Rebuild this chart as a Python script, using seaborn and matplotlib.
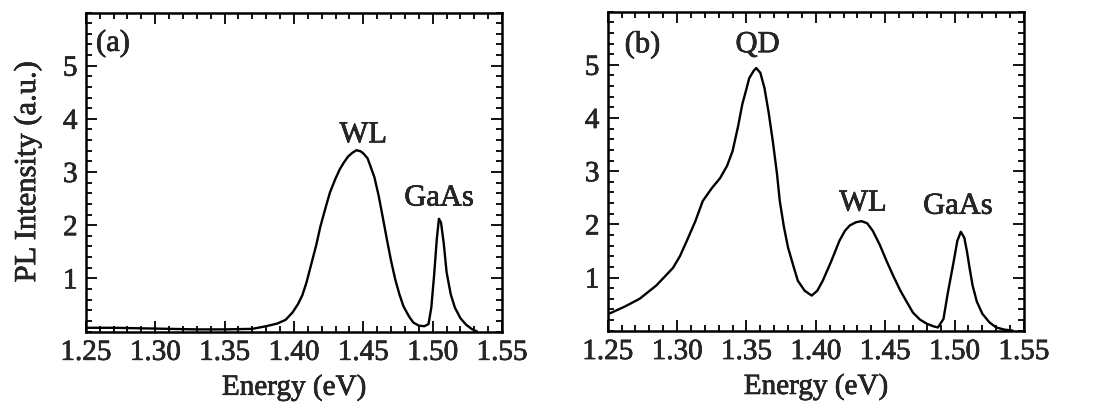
import matplotlib
matplotlib.use("Agg")
import matplotlib.pyplot as plt
import matplotlib.patheffects as pe
import seaborn as sns
import pandas as pd
from matplotlib.ticker import MultipleLocator, FormatStrFormatter

# Panel (a): PL spectrum, WL + GaAs only
energy_a = [1.250, 1.270, 1.290, 1.310, 1.330, 1.350, 1.370, 1.380, 1.388, 1.394,
            1.399, 1.403, 1.406, 1.409, 1.412, 1.416, 1.419, 1.423, 1.426, 1.430,
            1.433, 1.436, 1.439, 1.442, 1.445, 1.448, 1.450, 1.453, 1.455, 1.458,
            1.461, 1.464, 1.467, 1.470, 1.473, 1.476, 1.479, 1.483, 1.486, 1.490,
            1.494, 1.497, 1.499, 1.501, 1.503, 1.5045, 1.506, 1.508, 1.510, 1.513,
            1.516, 1.520, 1.524, 1.528, 1.532]
intensity_a = [0.07, 0.07, 0.06, 0.05, 0.04, 0.04, 0.05, 0.10, 0.15, 0.22,
               0.36, 0.52, 0.68, 0.92, 1.22, 1.62, 1.97, 2.35, 2.62, 2.88,
               3.05, 3.18, 3.29, 3.36, 3.41, 3.39, 3.35, 3.26, 3.12, 2.90,
               2.56, 2.15, 1.73, 1.33, 0.98, 0.70, 0.47, 0.28, 0.17, 0.11,
               0.10, 0.14, 0.45, 1.05, 1.75, 2.12, 2.05, 1.65, 1.12, 0.70,
               0.45, 0.25, 0.13, 0.05, 0.00]

# Panel (b): PL spectrum with QD peak
energy_b = [1.251, 1.262, 1.273, 1.285, 1.297, 1.302, 1.307, 1.313, 1.3185, 1.325,
            1.331, 1.336, 1.340, 1.344, 1.347, 1.350, 1.352, 1.355, 1.357, 1.360,
            1.363, 1.366, 1.369, 1.372, 1.374, 1.377, 1.380, 1.384, 1.387, 1.392,
            1.397, 1.401, 1.405, 1.411, 1.417, 1.421, 1.4245, 1.429, 1.433, 1.437,
            1.441, 1.446, 1.451, 1.456, 1.461, 1.466, 1.470, 1.475, 1.480, 1.485,
            1.488, 1.492, 1.495, 1.499, 1.502, 1.5045, 1.507, 1.509, 1.511, 1.513,
            1.516, 1.520, 1.525, 1.530, 1.536, 1.542]
intensity_b = [0.32, 0.45, 0.60, 0.85, 1.18, 1.40, 1.69, 2.05, 2.44, 2.68,
               2.87, 3.10, 3.38, 3.85, 4.26, 4.55, 4.75, 4.88, 4.94, 4.85,
               4.56, 4.10, 3.56, 2.95, 2.44, 1.95, 1.56, 1.20, 0.94, 0.75,
               0.66, 0.75, 0.94, 1.30, 1.69, 1.88, 1.98, 2.04, 2.06, 2.02,
               1.88, 1.62, 1.31, 1.02, 0.75, 0.52, 0.34, 0.21, 0.13, 0.08,
               0.06, 0.22, 0.69, 1.25, 1.69, 1.86, 1.75, 1.48, 1.15, 0.85,
               0.55, 0.32, 0.16, 0.06, 0.02, 0.00]

x_ticks = [1.25, 1.30, 1.35, 1.40, 1.45, 1.50, 1.55]
y_ticks = [1, 2, 3, 4, 5]

# label text, energy, intensity
labels_a = [("(a)", 1.2695, 5.42), ("WL", 1.450, 3.70), ("GaAs", 1.5046, 2.51)]
labels_b = [("(b)", 1.275, 5.38), ("QD", 1.358, 5.38), ("WL", 1.434, 2.40),
            ("GaAs", 1.5024, 2.34)]

sns.set_style("ticks")
plt.rcParams["font.family"] = ["Liberation Serif", "DejaVu Serif"]

# scanned print looks heavy, thicken glyphs a little
heavy = [pe.withStroke(linewidth=0.45, foreground="black")]

fig = plt.figure(figsize=(11.01, 4.17), dpi=100)
ax_a = fig.add_axes([0.078, 0.205, 0.378, 0.765])
ax_b = fig.add_axes([0.552, 0.207, 0.378, 0.765])

panels = [(ax_a, energy_a, intensity_a, labels_a),
          (ax_b, energy_b, intensity_b, labels_b)]

for ax, energy, intensity, labels in panels:
    df = pd.DataFrame({"energy": energy, "intensity": intensity})
    sns.lineplot(data=df, x="energy", y="intensity", ax=ax, color="black",
                 linewidth=1.7, sort=False)
    ax.set_xlim(1.25, 1.55)
    ax.set_ylim(0, 6)
    ax.set_xticks(x_ticks)
    ax.set_yticks(y_ticks)
    ax.xaxis.set_major_formatter(FormatStrFormatter("%.2f"))
    ax.xaxis.set_minor_locator(MultipleLocator(0.01))
    ax.yaxis.set_minor_locator(MultipleLocator(0.2))
    ax.tick_params(which="both", direction="in", top=True, right=True,
                   labelsize=21, width=1.3, color="black")
    ax.tick_params(which="major", length=8, pad=6)
    ax.tick_params(which="minor", length=4)
    for spine in ax.spines.values():
        spine.set_linewidth(1.8)
        spine.set_color("black")
    ax.set_xlabel("Energy (eV)", fontsize=21, labelpad=6)
    ax.set_ylabel("")
    for text, x, y in labels:
        ax.text(x, y, text, fontsize=22, ha="center", va="center",
                path_effects=heavy)
    for lbl in ax.get_xticklabels() + ax.get_yticklabels():
        lbl.set_path_effects(heavy)
    ax.xaxis.label.set_path_effects(heavy)

ax_a.set_ylabel("PL Intensity (a.u.)", fontsize=22, labelpad=15)
ax_a.yaxis.label.set_path_effects(heavy)

fig.savefig("out.png", dpi=100)
